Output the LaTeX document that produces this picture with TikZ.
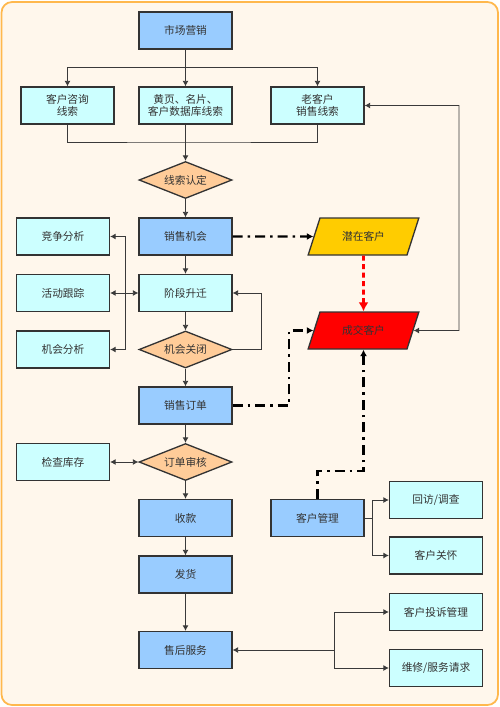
\documentclass[tikz,border=0pt]{standalone}
\usepackage{fontspec}
\setmainfont{Noto Sans CJK SC}
\usepackage{xcolor}
\usetikzlibrary{arrows.meta,positioning,shapes.geometric,calc}
\definecolor{mainblue}{HTML}{99CCFF}
\definecolor{subcyan}{HTML}{CCFFFF}
\definecolor{decorange}{HTML}{FFCC99}
\definecolor{leadyellow}{HTML}{FFCC00}
\definecolor{dealred}{HTML}{FF0000}
\definecolor{frameorange}{HTML}{FFB84D}
\definecolor{framefill}{HTML}{FFF7EC}
\definecolor{boxline}{HTML}{333333}
\definecolor{linegray}{HTML}{3A3A3A}

\begin{document}
\begin{tikzpicture}[x=0.02cm, y=-0.02cm,
  box/.style={draw=boxline, line width=0.75pt, minimum width=1.86cm, minimum height=0.74cm, inner sep=1pt, align=center, text=boxline, font=\fontsize{6.1}{7}\selectfont},
  mainbox/.style={box, fill=mainblue},
  subbox/.style={box, fill=subcyan},
  decision/.style={box, diamond, aspect=2.6, fill=decorange},
  client/.style={box, trapezium, trapezium left angle=65, trapezium right angle=115, trapezium stretches=true, minimum width=2.22cm},
  arrow/.style={-{Latex[length=1.1mm,width=1.2mm]}, line width=0.5pt, draw=linegray},
  twoway/.style={{Latex[length=1.1mm,width=1.2mm]}-{Latex[length=1.1mm,width=1.2mm]}, line width=0.5pt, draw=linegray},
  dashdot/.style={-{Latex[length=1.3mm,width=1.4mm]}, line width=1.4pt, draw=black, dash pattern=on 2mm off 1mm on 0.5mm off 1mm},
  reddash/.style={-{Latex[length=1.8mm,width=2mm]}, line width=1.6pt, draw=dealred, dash pattern=on 1mm off 0.7mm}
]
\useasboundingbox (0,0) rectangle (500,707);
\draw[draw=frameorange, fill=framefill, line width=1pt, rounded corners=6pt] (1.5,2) rectangle (498,705);

\node[mainbox] (market) at (185.5,30.5) {市场营销};
\node[subbox] (leadA) at (67.5,105.5) {客户咨询\\线索};
\node[subbox] (leadB) at (185.5,105.5) {黄页、名片、\\客户数据库线索};
\node[subbox] (leadC) at (317.5,105.5) {老客户\\销售线索};
\node[decision] (confirm) at (185.5,180) {线索认定};
\node[mainbox] (chance) at (185.5,236.5) {销售机会};
\node[subbox] (stage) at (185.5,293) {阶段升迁};
\node[decision] (close) at (185.5,349.5) {机会关闭};
\node[mainbox] (order) at (185.5,405.5) {销售订单};
\node[decision] (audit) at (185.5,462) {订单审核};
\node[mainbox] (pay) at (185.5,518) {收款};
\node[mainbox] (ship) at (185.5,574.5) {发货};
\node[mainbox] (after) at (185.5,650) {售后服务};

\node[subbox] (compete) at (63,236.5) {竞争分析};
\node[subbox] (track) at (63,293) {活动跟踪};
\node[subbox] (analyse) at (63,349.5) {机会分析};
\node[subbox] (stock) at (63,462) {检查库存};

\node[client, fill=leadyellow] (potential) at (363.5,236.5) {潜在客户};
\node[client, fill=dealred] (deal) at (363.5,330.5) {成交客户};

\node[mainbox] (crm) at (317.5,518) {客户管理};
\node[subbox] (visit) at (436,500) {回访/调查};
\node[subbox] (concern) at (436,555.5) {客户关怀};
\node[subbox] (complain) at (436,612) {客户投诉管理};
\node[subbox] (repair) at (436,668) {维修/服务请求};

\coordinate (split) at (185.5,67);
\coordinate (merge) at (185.5,142);
\coordinate (fork) at (125,293);
\coordinate (loop) at (261,349.5);
\coordinate (orderbend) at (289,405.5);
\coordinate (crmbend) at (317.5,471);
\coordinate (returnbend) at (459,330.5);
\coordinate (crmsplit) at (372,518);
\coordinate (servicesplit) at (334,650);

\draw[arrow] (market) -- (leadB);
\draw[arrow] (split) -| (leadA);
\draw[arrow] (split) -| (leadC);
\draw[line width=0.5pt, draw=linegray] (leadA) |- (merge) -| (leadC);
\draw[arrow] (leadB) -- (confirm);

\foreach \i/\j in {confirm/chance, chance/stage, stage/close, close/order, order/audit, audit/pay, pay/ship, ship/after} {
  \draw[arrow] (\i) -- (\j);
}

\draw[twoway] (track) -- (stage);
\draw[arrow] (fork) |- (compete);
\draw[arrow] (fork) |- (analyse);
\draw[arrow] (close.east) -- (loop) |- (stage);
\draw[twoway] (stock) -- (audit);

\draw[dashdot] (chance) -- (potential);
\draw[reddash] (potential) -- (deal);
\draw[dashdot] (order) -- (orderbend) |- (deal);
\draw[dashdot] (crm) -- (crmbend) -| (deal);
\draw[twoway] (deal) -- (returnbend) |- (leadC);

\draw[line width=0.5pt, draw=linegray] (crm) -- (crmsplit);
\draw[arrow] (crmsplit) |- (visit);
\draw[arrow] (crmsplit) |- (concern);
\draw[arrow] (servicesplit) -- (after);
\draw[arrow] (servicesplit) |- (complain);
\draw[arrow] (servicesplit) |- (repair);
\end{tikzpicture}
\end{document}
